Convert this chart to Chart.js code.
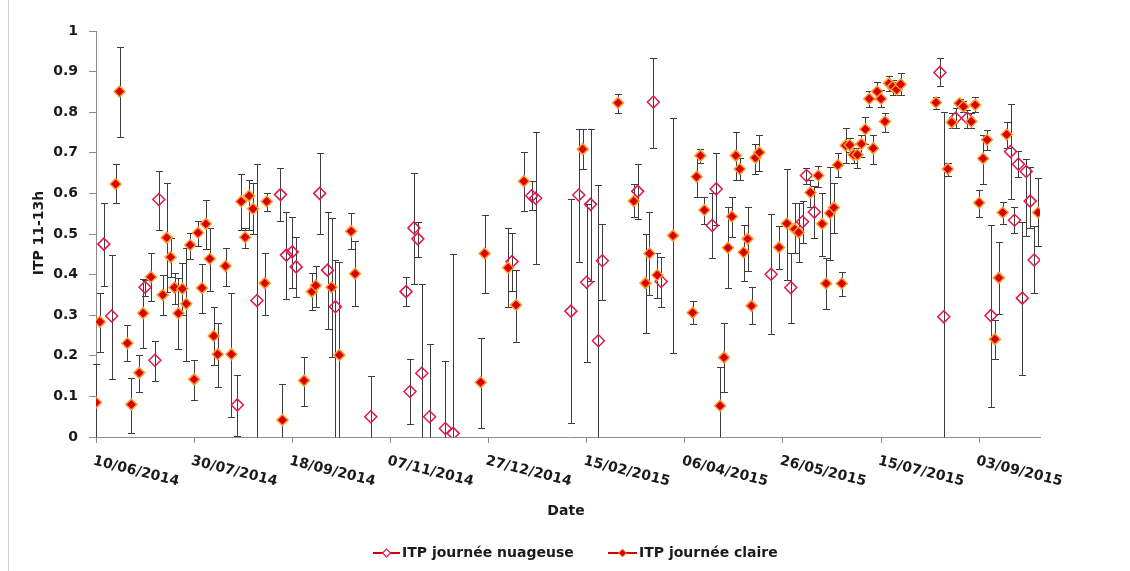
<!DOCTYPE html>
<html>
<head>
<meta charset="utf-8">
<script src="https://cdn.jsdelivr.net/npm/chart.js@4.4.1/dist/chart.umd.min.js"></script>
<style>
  html, body { margin: 0; background: #fff; }
  #wrap { position: relative; width: 1130px; height: 571px; }
</style>
</head>
<body>
<div id="wrap"><canvas id="itpChart"></canvas></div>
<script>
// x axis: days since 10/06/2014, ticks every 50 days
const xTickLabels = ['10/06/2014', '30/07/2014', '18/09/2014', '07/11/2014', '27/12/2014',
    '15/02/2015', '06/04/2015', '26/05/2015', '15/07/2015', '03/09/2015'];
const yTicks = [0, 0.1, 0.2, 0.3, 0.4, 0.5, 0.6, 0.7, 0.8, 0.9, 1];

// ITP journée claire
const clearDates = [
    '2014-06-10','2014-06-12','2014-06-20','2014-06-22','2014-06-26','2014-06-28','2014-07-02','2014-07-04','2014-07-08','2014-07-14',
    '2014-07-16','2014-07-18','2014-07-20','2014-07-22','2014-07-24','2014-07-26','2014-07-28','2014-07-30','2014-08-01','2014-08-03',
    '2014-08-05','2014-08-07','2014-08-09','2014-08-11','2014-08-15','2014-08-18','2014-08-23','2014-08-25','2014-08-27','2014-08-29',
    '2014-09-04','2014-09-05','2014-09-13','2014-09-24','2014-09-28','2014-09-30','2014-10-08','2014-10-12','2014-10-18','2014-10-20',
    '2014-12-23','2014-12-25','2015-01-06','2015-01-10','2015-01-14','2015-02-13','2015-03-03','2015-03-11','2015-03-17','2015-03-19',
    '2015-03-23','2015-03-31','2015-04-10','2015-04-12','2015-04-14','2015-04-16','2015-04-24','2015-04-26','2015-04-28','2015-04-30',
    '2015-05-02','2015-05-04','2015-05-06','2015-05-08','2015-05-10','2015-05-12','2015-05-14','2015-05-24','2015-05-28','2015-06-01',
    '2015-06-03','2015-06-09','2015-06-13','2015-06-15','2015-06-17','2015-06-19','2015-06-21','2015-06-23','2015-06-25','2015-06-27',
    '2015-06-29','2015-07-01','2015-07-03','2015-07-05','2015-07-07','2015-07-09','2015-07-11','2015-07-13','2015-07-15','2015-07-17',
    '2015-07-19','2015-07-21','2015-07-23','2015-07-25','2015-08-12','2015-08-18','2015-08-20','2015-08-24','2015-08-26','2015-08-30',
    '2015-09-01','2015-09-03','2015-09-05','2015-09-07','2015-09-11','2015-09-13','2015-09-15','2015-09-17','2015-10-03'
];
const clearValues = [
    .085,.284,.623,.851,.231,.080,.158,.305,.394,.350,
    .491,.443,.368,.305,.365,.328,.473,.142,.503,.367,
    .525,.439,.249,.204,.421,.204,.580,.492,.594,.562,
    .379,.580,.042,.139,.358,.373,.369,.202,.507,.402,
    .135,.452,.417,.325,.630,.709,.823,.581,.379,.452,
    .399,.496,.306,.641,.693,.559,.077,.196,.466,.543,
    .693,.660,.455,.488,.323,.688,.701,.467,.526,.512,
    .504,.602,.644,.525,.378,.551,.565,.670,.378,.718,
    .719,.695,.695,.722,.758,.833,.711,.851,.833,.777,
    .871,.863,.856,.869,.824,.660,.775,.822,.814,.777,
    .818,.577,.686,.732,.241,.392,.553,.745,.553
];
const clearLow = [
    0,.21,.577,.740,.186,.011,.112,.218,.335,.300,
    .358,.395,.328,.217,.300,.186,.438,.091,.470,.306,
    .462,.360,.177,.124,.373,.050,.510,.465,.51,.499,
    .301,.557,0,.077,.313,.321,.196,0,.462,.323,
    .022,.354,.319,.233,.557,.659,.797,.541,.255,.350,
    .342,.206,.278,.592,.674,.525,0,.112,.366,.492,
    .633,.633,.384,.409,.278,.648,.654,.414,.387,.452,
    .430,.567,.615,.446,.316,.436,.502,.641,.347,.674,
    .703,.676,.662,.690,.722,.812,.672,.832,.812,.752,
    .853,.842,.842,.842,.807,.643,.760,.812,.800,.760,
    .801,.543,.623,.707,.191,.303,.525,.711,.470
];
const clearHigh = [
    .18,.355,.672,.961,.275,.145,.201,.388,.452,.399,
    .625,.489,.403,.391,.428,.465,.502,.190,.533,.425,
    .584,.516,.319,.282,.466,.354,.649,.514,.633,.625,
    .454,.600,.13,.198,.403,.421,.539,.430,.551,.483,
    .245,.548,.516,.411,.703,.759,.844,.622,.499,.553,
    .452,.785,.335,.695,.709,.592,.173,.280,.567,.590,
    .752,.686,.522,.567,.370,.722,.744,.520,.660,.577,
    .577,.633,.668,.600,.440,.666,.626,.700,.407,.760,
    .736,.711,.711,.744,.789,.853,.745,.875,.855,.799,
    .889,.879,.875,.896,.838,.676,.797,.832,.828,.797,
    .837,.608,.744,.755,.288,.481,.580,.777,.637
];

// ITP journée nuageuse
const cloudyDates = [
    '2014-06-14','2014-06-18','2014-07-05','2014-07-10','2014-07-12','2014-08-21','2014-08-31','2014-09-12','2014-09-15','2014-09-18',
    '2014-09-20','2014-10-02','2014-10-06','2014-10-10','2014-10-28','2014-11-15','2014-11-17','2014-11-19','2014-11-21','2014-11-23',
    '2014-11-27','2014-12-05','2014-12-09','2015-01-08','2015-01-18','2015-01-20','2015-02-07','2015-02-11','2015-02-15','2015-02-17',
    '2015-02-21','2015-02-23','2015-03-13','2015-03-21','2015-03-25','2015-04-20','2015-04-22','2015-05-20','2015-05-30','2015-06-05',
    '2015-06-07','2015-06-11','2015-08-14','2015-08-16','2015-08-22','2015-08-28','2015-09-09','2015-09-19','2015-09-21','2015-09-23',
    '2015-09-25','2015-09-27','2015-09-29','2015-10-01'
];
const cloudyValues = [
    .475,.298,.369,.189,.585,.079,.336,.597,.448,.456,
    .419,.600,.411,.321,.050,.358,.112,.515,.488,.157,
    .050,.021,.009,.432,.594,.588,.310,.596,.381,.573,
    .237,.434,.605,.825,.383,.521,.611,.401,.368,.530,
    .644,.554,.898,.296,.785,.785,.299,.703,.534,.672,
    .342,.654,.581,.436
];
const cloudyLow = [
    .373,.142,.347,.139,.510,.002,0,.531,.339,.366,
    .344,.499,.265,0,0,.323,.031,.376,.444,0,
    0,0,0,.360,.560,.425,.035,.430,.185,.385,
    0,.337,.537,.713,.319,.442,.521,.253,.280,.479,
    .622,.491,.865,0,.760,.760,.075,.586,.503,.641,
    .153,.495,.514,.354
];
const cloudyHigh = [
    .577,.448,.387,.237,.656,.152,.672,.662,.553,.541,
    .492,.700,.553,.436,.151,.395,.191,.651,.529,.376,
    .229,.188,.450,.502,.630,.752,.585,.759,.575,.759,
    .621,.525,.672,.934,.444,.600,.700,.549,.454,.581,
    .662,.619,.933,.800,.810,.805,.522,.819,.566,.705,
    .530,.684,.666,.520
];

const DAY_MS = 86400000;
const T0 = Date.UTC(2014, 5, 10);
const toDay = s => {
    const [y, m, d] = s.split('-').map(Number);
    return Math.round((Date.UTC(y, m - 1, d) - T0) / DAY_MS);
};
const X_MAX = toDay('2015-10-04');

const FONT = 'bold 14px "DejaVu Sans"';
const TEXT = '#1a1a1a';

const cloudyPoints = cloudyDates.map((d, i) => ({ x: toDay(d), y: cloudyValues[i], lo: cloudyLow[i], hi: cloudyHigh[i] }));
const clearPoints = clearDates.map((d, i) => ({ x: toDay(d), y: clearValues[i], lo: clearLow[i], hi: clearHigh[i] }));

// vertical error bars with caps, under the markers
const errorBars = {
    id: 'errorBars',
    beforeDatasetsDraw(chart) {
        const { ctx, scales: { x, y } } = chart;
        ctx.save();
        ctx.strokeStyle = '#3d3d3d';
        ctx.lineWidth = 1;
        chart.data.datasets.forEach(ds => {
            ds.data.forEach(p => {
                const px = Math.round(x.getPixelForValue(p.x)) + 0.5;
                const top = Math.round(y.getPixelForValue(p.hi)) + 0.5;
                const bot = Math.round(y.getPixelForValue(p.lo)) + 0.5;
                ctx.beginPath();
                ctx.moveTo(px, top); ctx.lineTo(px, bot);
                ctx.moveTo(px - 3.5, top); ctx.lineTo(px + 3.5, top);
                if (p.lo > 0) { ctx.moveTo(px - 3.5, bot); ctx.lineTo(px + 3.5, bot); }
                ctx.stroke();
            });
        });
        ctx.restore();
    }
};

function diamond(ctx, cx, cy, r, fill, stroke, lw) {
    ctx.beginPath();
    ctx.moveTo(cx - r, cy); ctx.lineTo(cx, cy - r); ctx.lineTo(cx + r, cy); ctx.lineTo(cx, cy + r);
    ctx.closePath();
    if (fill) { ctx.fillStyle = fill; ctx.fill(); }
    if (stroke) { ctx.strokeStyle = stroke; ctx.lineWidth = lw; ctx.stroke(); }
}

// rotated date labels, axis titles, legend, frame
const texts = {
    id: 'texts',
    afterDraw(chart) {
        const { ctx, scales: { x } } = chart;
        ctx.save();
        ctx.fillStyle = TEXT;
        ctx.font = FONT;

        xTickLabels.forEach((lab, i) => {
            ctx.save();
            ctx.translate(x.getPixelForValue(i * 50) - 1, 454);
            ctx.rotate(14 * Math.PI / 180);
            ctx.textAlign = 'left';
            ctx.textBaseline = 'top';
            ctx.fillText(lab, 0, 0);
            ctx.restore();
        });

        ctx.textAlign = 'center';
        ctx.textBaseline = 'middle';
        ctx.fillText('Date', 566, 511);

        ctx.save();
        ctx.translate(39, 233);
        ctx.rotate(-Math.PI / 2);
        ctx.fillText('ITP 11-13h', 0, 0);
        ctx.restore();

        // legend
        const ly = 553;
        ctx.lineWidth = 2;
        ctx.strokeStyle = '#d40000';
        ctx.beginPath(); ctx.moveTo(373, ly); ctx.lineTo(400, ly); ctx.stroke();
        diamond(ctx, 386.5, ly, 4, '#fff', '#e3174c', 1.2);
        ctx.strokeStyle = '#d40000';
        ctx.lineWidth = 2;
        ctx.beginPath(); ctx.moveTo(608, ly); ctx.lineTo(637, ly); ctx.stroke();
        diamond(ctx, 622.5, ly, 4, '#d60000', '#ff9a2e', 1);
        ctx.fillStyle = TEXT;
        ctx.textAlign = 'left';
        ctx.fillText('ITP journée nuageuse', 402, ly);
        ctx.fillText('ITP journée claire', 639, ly);

        ctx.strokeStyle = '#cfcfcf';
        ctx.lineWidth = 1;
        ctx.beginPath(); ctx.moveTo(8.5, 0); ctx.lineTo(8.5, 571); ctx.stroke();
        ctx.restore();
    }
};

new Chart(document.getElementById('itpChart'), {
    type: 'scatter',
    data: {
        datasets: [
            {
                label: 'ITP journée nuageuse',
                data: cloudyPoints,
                pointStyle: 'rectRot',
                pointRadius: 6,
                backgroundColor: 'rgba(255,255,255,0)',
                borderColor: '#e3174c',
                borderWidth: 1.5,
                order: 2
            },
            {
                label: 'ITP journée claire',
                data: clearPoints,
                pointStyle: 'rectRot',
                pointRadius: 5.5,
                backgroundColor: '#d60000',
                borderColor: '#ff9a2e',
                borderWidth: 1.5,
                order: 1
            }
        ]
    },
    options: {
        responsive: true,
        maintainAspectRatio: false,
        animation: false,
        devicePixelRatio: 1,
        layout: { padding: { left: 0, top: 31, right: 90, bottom: 0 } },
        plugins: {
            legend: { display: false },
            tooltip: { enabled: false }
        },
        scales: {
            x: {
                type: 'linear',
                min: 0,
                max: X_MAX,
                afterFit(scale) { scale.height = 134; },
                ticks: { stepSize: 50, includeBounds: false, display: false },
                grid: { drawOnChartArea: false, drawTicks: true, tickLength: 6, color: '#8c8c8c' },
                border: { color: '#8c8c8c', width: 1 }
            },
            y: {
                min: 0,
                max: 1,
                afterFit(scale) { scale.width = 96; },
                afterBuildTicks(scale) { scale.ticks = yTicks.map(v => ({ value: v })); },
                ticks: {
                    padding: 11,
                    color: TEXT,
                    font: { family: 'DejaVu Sans', size: 14, weight: 'bold' },
                    callback: v => String(Math.round(v * 10) / 10)
                },
                grid: { drawOnChartArea: false, drawTicks: true, tickLength: 7, color: '#8c8c8c' },
                border: { color: '#8c8c8c', width: 1 }
            }
        }
    },
    plugins: [errorBars, texts]
});
</script>
</body>
</html>
